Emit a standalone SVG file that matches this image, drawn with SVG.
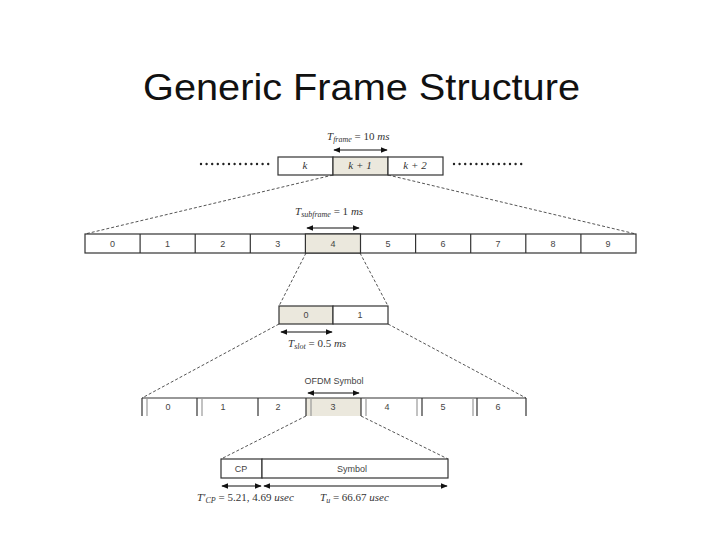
<svg xmlns="http://www.w3.org/2000/svg" width="720" height="540" viewBox="0 0 720 540">
<defs>
<marker id="ah" viewBox="0 0 10 10" refX="9" refY="5" markerWidth="6" markerHeight="6" orient="auto-start-reverse">
<path d="M0,1 L10,5 L0,9 z" fill="#111"/>
</marker>
<style>
.title{font-family:"Liberation Sans","DejaVu Sans",sans-serif;font-size:37px;fill:#111}
.box{fill:#fff;stroke:#333;stroke-width:1.2}
.shade{fill:#ebe8dd;stroke:#333;stroke-width:1.2}
.div{stroke:#333;stroke-width:1.2}
.cp{stroke:#999;stroke-width:1.2}
.num{font-family:"Liberation Sans","DejaVu Sans",sans-serif;font-size:9px;fill:#444;text-anchor:middle}
.math{font-family:"Liberation Serif","DejaVu Serif",serif;font-size:11px;fill:#333}
.var{font-family:"Liberation Serif","DejaVu Serif",serif;font-style:italic;font-size:11px;fill:#333;text-anchor:middle}
.dash{stroke:#555;stroke-width:1;stroke-dasharray:3,2;fill:none}
.arr{stroke:#111;stroke-width:1.2;fill:none;marker-start:url(#ah);marker-end:url(#ah)}
.dots{stroke:#222;stroke-width:2.4;stroke-linecap:round;stroke-dasharray:0,5.6;fill:none}
</style>
</defs>
<rect width="720" height="540" fill="#fff"/>
<text class="title" x="143" y="100" textLength="437" lengthAdjust="spacingAndGlyphs">Generic Frame Structure</text>

<g id="connectors">
<line class="dash" x1="333" y1="175" x2="85" y2="234"/>
<line class="dash" x1="388" y1="175" x2="636" y2="234"/>
<line class="dash" x1="306" y1="253" x2="279" y2="306"/>
<line class="dash" x1="360" y1="253" x2="388" y2="306"/>
<line class="dash" x1="279" y1="324" x2="142" y2="398"/>
<line class="dash" x1="388" y1="324" x2="526" y2="398"/>
<line class="dash" x1="306" y1="416" x2="221" y2="459"/>
<line class="dash" x1="361" y1="416" x2="448" y2="459"/>
<line class="arr" x1="334" y1="150" x2="387" y2="150"/>
<line class="arr" x1="307" y1="228" x2="359" y2="228"/>
<line class="arr" x1="281" y1="332" x2="332" y2="332"/>
<line class="arr" x1="308" y1="393" x2="359" y2="393"/>
<line class="arr" x1="222" y1="486" x2="261" y2="486"/>
<line class="arr" x1="264" y1="486" x2="447" y2="486"/>
</g>

<g id="frames">
<line class="dots" x1="201" y1="164" x2="273" y2="164"/>
<line class="dots" x1="454" y1="164" x2="526" y2="164"/>
<rect class="box" x="278" y="157" width="55" height="18"/>
<rect class="shade" x="333" y="157" width="55" height="18"/>
<rect class="box" x="388" y="157" width="55" height="18"/>
<text class="var" x="305" y="169">k</text>
<text class="var" x="360" y="169">k + 1</text>
<text class="var" x="415" y="169">k + 2</text>
<text class="math" x="327" y="140"><tspan font-style="italic">T</tspan><tspan font-style="italic" font-size="8" dy="2">frame</tspan><tspan dy="-2"> = 10 </tspan><tspan font-style="italic">ms</tspan></text>
</g>

<g id="subframes">
<rect class="box" x="85" y="234" width="551" height="19"/>
<rect class="shade" x="305.4" y="234" width="55.1" height="19"/>
<line class="div" x1="140.1" y1="234" x2="140.1" y2="253"/>
<line class="div" x1="195.2" y1="234" x2="195.2" y2="253"/>
<line class="div" x1="250.3" y1="234" x2="250.3" y2="253"/>
<line class="div" x1="415.6" y1="234" x2="415.6" y2="253"/>
<line class="div" x1="470.7" y1="234" x2="470.7" y2="253"/>
<line class="div" x1="525.8" y1="234" x2="525.8" y2="253"/>
<line class="div" x1="580.9" y1="234" x2="580.9" y2="253"/>
<text class="num" x="112.5" y="247">0</text>
<text class="num" x="167.6" y="247">1</text>
<text class="num" x="222.7" y="247">2</text>
<text class="num" x="277.8" y="247">3</text>
<text class="num" x="333" y="247">4</text>
<text class="num" x="388" y="247">5</text>
<text class="num" x="443" y="247">6</text>
<text class="num" x="498" y="247">7</text>
<text class="num" x="553" y="247">8</text>
<text class="num" x="608" y="247">9</text>
<text class="math" x="295" y="215"><tspan font-style="italic">T</tspan><tspan font-style="italic" font-size="8" dy="2">subframe</tspan><tspan dy="-2"> = 1 </tspan><tspan font-style="italic">ms</tspan></text>
</g>

<g id="slots">
<rect class="shade" x="279" y="306" width="54" height="18"/>
<rect class="box" x="333" y="306" width="55" height="18"/>
<text class="num" x="306" y="318">0</text>
<text class="num" x="360" y="318">1</text>
<text class="math" x="288" y="347"><tspan font-style="italic">T</tspan><tspan font-style="italic" font-size="8" dy="2">slot</tspan><tspan dy="-2"> = 0.5 </tspan><tspan font-style="italic">ms</tspan></text>
</g>

<g id="symbols">
<rect x="306" y="398" width="55" height="18" fill="#ebe8dd"/>
<line class="div" x1="142" y1="398" x2="526" y2="398"/>
<line class="div" x1="142" y1="398" x2="142" y2="416"/>
<line class="cp" x1="147" y1="398" x2="147" y2="416"/>
<line class="div" x1="197" y1="398" x2="197" y2="416"/>
<line class="cp" x1="202" y1="398" x2="202" y2="416"/>
<line class="div" x1="258" y1="398" x2="258" y2="416"/>
<line class="div" x1="306" y1="398" x2="306" y2="416"/>
<line class="cp" x1="311" y1="398" x2="311" y2="416"/>
<line class="div" x1="361" y1="398" x2="361" y2="416"/>
<line class="cp" x1="366" y1="398" x2="366" y2="416"/>
<line class="cp" x1="417" y1="398" x2="417" y2="416"/>
<line class="div" x1="422" y1="398" x2="422" y2="416"/>
<line class="cp" x1="473" y1="398" x2="473" y2="416"/>
<line class="div" x1="477" y1="398" x2="477" y2="416"/>
<line class="div" x1="526" y1="398" x2="526" y2="416"/>
<text class="num" x="168" y="410">0</text>
<text class="num" x="223" y="410">1</text>
<text class="num" x="278" y="410">2</text>
<text class="num" x="333" y="410">3</text>
<text class="num" x="387" y="410">4</text>
<text class="num" x="443" y="410">5</text>
<text class="num" x="498" y="410">6</text>
<text class="num" x="334" y="384">OFDM Symbol</text>
</g>

<g id="symbol-detail">
<rect class="box" x="221" y="459" width="41" height="19"/>
<rect class="box" x="262" y="459" width="186" height="19"/>
<text class="num" x="241" y="472">CP</text>
<text class="num" x="352" y="472">Symbol</text>
<text class="math" x="197" y="501"><tspan font-style="italic">T′</tspan><tspan font-style="italic" font-size="8" dy="2">CP</tspan><tspan dy="-2"> = 5.21, 4.69 </tspan><tspan font-style="italic">usec</tspan></text>
<text class="math" x="320" y="501"><tspan font-style="italic">T</tspan><tspan font-style="italic" font-size="8" dy="2">u</tspan><tspan dy="-2"> = 66.67 </tspan><tspan font-style="italic">usec</tspan></text>
</g>
</svg>
